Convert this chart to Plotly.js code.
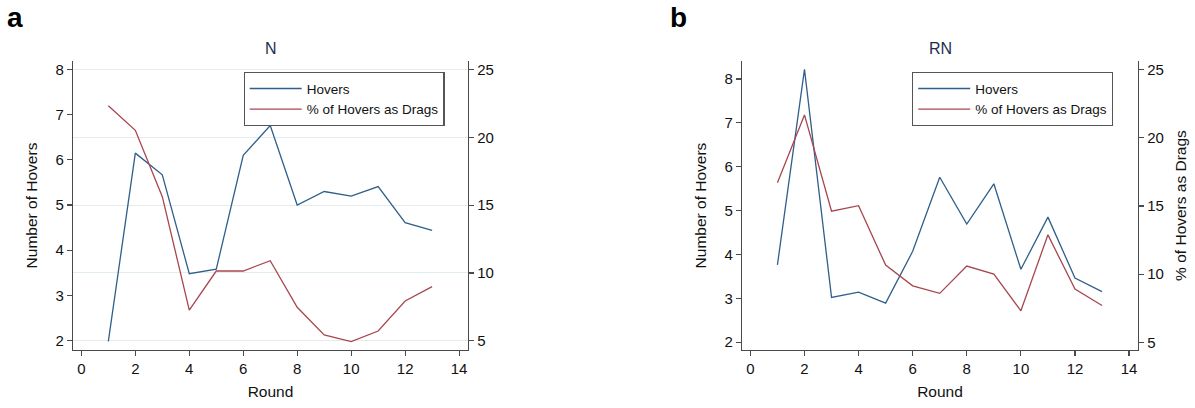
<!DOCTYPE html>
<html>
<head>
<meta charset="utf-8">
<script src="https://cdn.plot.ly/plotly-3.0.1.min.js"></script>
<style>html,body{margin:0;padding:0;background:#fff;}#chart{width:1195px;height:408px;}</style>
</head>
<body>
<div id="chart"></div>
<script>
// ---- data ----
const rounds = [1, 2, 3, 4, 5, 6, 7, 8, 9, 10, 11, 12, 13];
const hoversN  = [1.98, 6.15, 5.67, 3.48, 3.58, 6.10, 6.76, 5.00, 5.30, 5.20, 5.41, 4.61, 4.44];
const dragsN   = [22.34, 20.52, 15.63, 7.26, 10.14, 10.14, 10.90, 7.46, 5.42, 4.93, 5.71, 7.93, 8.99];
const hoversRN = [3.76, 8.22, 3.02, 3.14, 2.89, 4.07, 5.76, 4.69, 5.61, 3.66, 4.85, 3.46, 3.15];
const dragsRN  = [16.69, 21.67, 14.61, 15.02, 10.66, 9.14, 8.59, 10.59, 10.00, 7.31, 12.88, 8.90, 7.70];
const panelTitles = ['N', 'RN'];
const panelLetters = ['a', 'b'];
const seriesNames = ['Hovers', '% of Hovers as Drags'];
const xTitle = 'Round';
const yLeftTitle = 'Number of Hovers';
const yRightTitle = '% of Hovers as Drags';
const leftTicks = [2, 3, 4, 5, 6, 7, 8];
const rightTicks = [5, 10, 15, 20, 25];
const xTicks = [0, 2, 4, 6, 8, 10, 12, 14];

const FONT = 'Liberation Sans, Arial, Helvetica, sans-serif';
const BLUE = '#2f5f8a';
const RED = '#a8464f';
const AX = '#4a4a4a';
const GRID = '#e3ecef';

const traces = [
  {x: rounds, y: hoversN, xaxis: 'x', yaxis: 'y', name: seriesNames[0], mode: 'lines',
   line: {color: BLUE, width: 1.3}, legend: 'legend'},
  {x: rounds, y: dragsN, xaxis: 'x', yaxis: 'y2', name: seriesNames[1], mode: 'lines',
   line: {color: RED, width: 1.3}, legend: 'legend'},
  {x: rounds, y: hoversRN, xaxis: 'x2', yaxis: 'y3', name: seriesNames[0], mode: 'lines',
   line: {color: BLUE, width: 1.3}, legend: 'legend2'},
  {x: rounds, y: dragsRN, xaxis: 'x2', yaxis: 'y4', name: seriesNames[1], mode: 'lines',
   line: {color: RED, width: 1.3}, legend: 'legend2'}
];

const W = 1195, H = 408;
const yDom = [1 - 350 / H, 1 - 61 / H];
const tickFont = {family: FONT, size: 15, color: '#111'};
const titleFont = {family: FONT, size: 15.5, color: '#111'};

function xAxis(dom) {
  return {domain: dom, range: [-0.31, 14.33], tickvals: xTicks, showline: true, linecolor: AX, linewidth: 1.2,
    ticks: 'outside', ticklen: 5, tickcolor: AX, tickwidth: 1.2, showgrid: false, zeroline: false,
    tickfont: tickFont, title: {text: xTitle, font: titleFont, standoff: 10}, automargin: false, fixedrange: true};
}
function yLeft(anchor, range) {
  return {domain: yDom, anchor: anchor, range: range, tickvals: leftTicks, showline: true, linecolor: AX,
    linewidth: 1.2, ticks: 'outside', ticklen: 5, tickcolor: AX, tickwidth: 1.2, showgrid: false, zeroline: false,
    tickfont: tickFont, title: {text: yLeftTitle, font: titleFont, standoff: 14}, automargin: false};
}
function yRight(anchor, overlay, range, grid, withTitle) {
  const ax = {domain: yDom, anchor: anchor, overlaying: overlay, side: 'right', range: range, tickvals: rightTicks,
    showline: true, linecolor: AX, linewidth: 1.2, ticks: 'outside', ticklen: 5, tickcolor: AX, tickwidth: 1.2,
    showgrid: grid, gridcolor: GRID, gridwidth: 1, zeroline: false, tickfont: tickFont, automargin: false};
  if (withTitle) ax.title = {text: yRightTitle, font: titleFont, standoff: 12};
  return ax;
}
function legendBox(xLeft) {
  return {x: xLeft / W, y: 1 - 72 / H, xanchor: 'left', yanchor: 'top', bgcolor: '#fff',
    bordercolor: '#555', borderwidth: 1.2, font: {family: FONT, size: 13.5, color: '#111'},
    itemwidth: 52, tracegroupgap: 0, entrywidth: 150, entrywidthmode: 'pixels'};
}

const layout = {
  width: W, height: H, autosize: false,
  margin: {l: 0, r: 0, t: 0, b: 0},
  paper_bgcolor: '#fff', plot_bgcolor: 'rgba(0,0,0,0)',
  font: {family: FONT, color: '#111'},
  xaxis: xAxis([73 / W, 468 / W]),
  yaxis: yLeft('x', [1.79, 8.19]),
  yaxis2: yRight('x', 'y', [4.31, 25.64], true, false),
  xaxis2: xAxis([742 / W, 1138 / W]),
  yaxis3: yLeft('x2', [1.82, 8.41]),
  yaxis4: yRight('x2', 'y3', [4.44, 25.62], false, true),
  // grid-only axis for panel b (reference shows no grid line at 25 there)
  yaxis5: {domain: yDom, anchor: 'x2', overlaying: 'y3', side: 'right', range: [4.44, 25.62],
    tickvals: [5, 10, 15, 20], showticklabels: false, ticks: '', showline: false, showgrid: true,
    gridcolor: GRID, gridwidth: 1, zeroline: false},
  showlegend: true,
  legend: legendBox(243.5),
  legend2: legendBox(912),
  annotations: [
    {text: panelTitles[0], xref: 'paper', yref: 'paper', x: 270.5 / W, y: 1 - 48 / H, xanchor: 'center',
     yanchor: 'middle', showarrow: false, font: {family: FONT, size: 16, color: '#1d2e4f'}},
    {text: panelTitles[1], xref: 'paper', yref: 'paper', x: 940 / W, y: 1 - 48 / H, xanchor: 'center',
     yanchor: 'middle', showarrow: false, font: {family: FONT, size: 16, color: '#1d2e4f'}},
    {text: '<b>' + panelLetters[0] + '</b>', xref: 'paper', yref: 'paper', x: 5 / W, y: 1,
     xanchor: 'left', yanchor: 'top', showarrow: false, font: {family: FONT, size: 28, color: '#000'}},
    {text: '<b>' + panelLetters[1] + '</b>', xref: 'paper', yref: 'paper', x: 668 / W, y: 1,
     xanchor: 'left', yanchor: 'top', showarrow: false, font: {family: FONT, size: 28, color: '#000'}}
  ]
};

Plotly.newPlot('chart', traces, layout, {staticPlot: true, displayModeBar: false});
</script>
</body>
</html>
